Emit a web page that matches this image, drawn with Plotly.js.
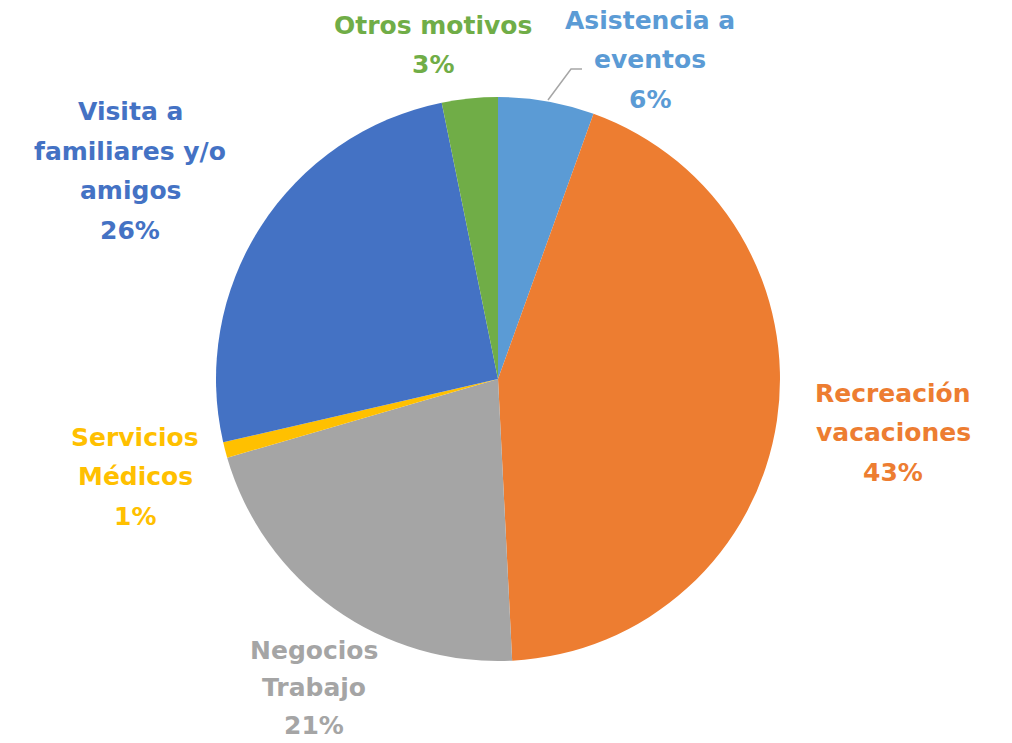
<!DOCTYPE html>
<html>
<head>
<meta charset="utf-8">
<script src="https://cdn.plot.ly/plotly-3.0.1.min.js"></script>
<style>html,body{margin:0;padding:0;background:#fff;}#chart{width:1012px;height:743px;}</style>
</head>
<body>
<div id="chart"></div>
<script>
// Data (clockwise from 12 o'clock)
const categories = ["Asistencia a|eventos", "Recreación|vacaciones", "Negocios|Trabajo", "Servicios|Médicos", "Visita a|familiares y/o|amigos", "Otros motivos"];
const values = [5.5, 43.7, 21.3, 0.9, 25.4, 3.2];
const pctLabels = ["6%", "43%", "21%", "1%", "26%", "3%"];
const colors = ["#5B9BD5", "#ED7D31", "#A5A5A5", "#FFC000", "#4472C4", "#70AD47"];

const W = 1012, H = 743;
const cx = 498, cy = 379, r = 282;
// label block: centre x, first-line y (pixels), line gap
const labelPos = [[650, 20, 39.5], [893, 393, 39.5], [314, 650, 37.5], [135, 437, 39.5], [130, 112, 39.5], [433, 25, 39.5]];

const trace = {
  type: "pie",
  values: values,
  labels: categories.map(c => c.replace(/\|/g, " ")),
  marker: {colors: colors, line: {width: 0}},
  sort: false,
  direction: "clockwise",
  rotation: 0,
  textinfo: "none",
  hoverinfo: "none",
  showlegend: false,
  domain: {x: [(cx - r) / W, (cx + r) / W], y: [1 - (cy + r) / H, 1 - (cy - r) / H]}
};

const annotations = [];
categories.forEach((c, i) => {
  const lines = c.split("|").concat([pctLabels[i]]);
  lines.forEach((t, j) => {
    annotations.push({
      xref: "paper", yref: "paper",
      x: labelPos[i][0] / W, y: 1 - (labelPos[i][1] + j * labelPos[i][2]) / H,
      xanchor: "center", yanchor: "middle",
      text: t, showarrow: false,
      font: {family: "'DejaVu Sans', sans-serif", size: 25, color: colors[i], weight: 700}
    });
  });
});

const px = (x) => x / W, py = (y) => 1 - y / H;
const shapes = [{
  type: "path", xref: "paper", yref: "paper",
  path: `M ${px(548)} ${py(100)} L ${px(571)} ${py(69)} L ${px(582)} ${py(69)}`,
  line: {color: "#A6A6A6", width: 1.5}
}];

const layout = {
  width: W, height: H,
  margin: {l: 0, r: 0, t: 0, b: 0},
  paper_bgcolor: "#ffffff",
  plot_bgcolor: "#ffffff",
  annotations: annotations,
  shapes: shapes
};

Plotly.newPlot("chart", [trace], layout, {displayModeBar: false, staticPlot: true});
</script>
</body>
</html>
